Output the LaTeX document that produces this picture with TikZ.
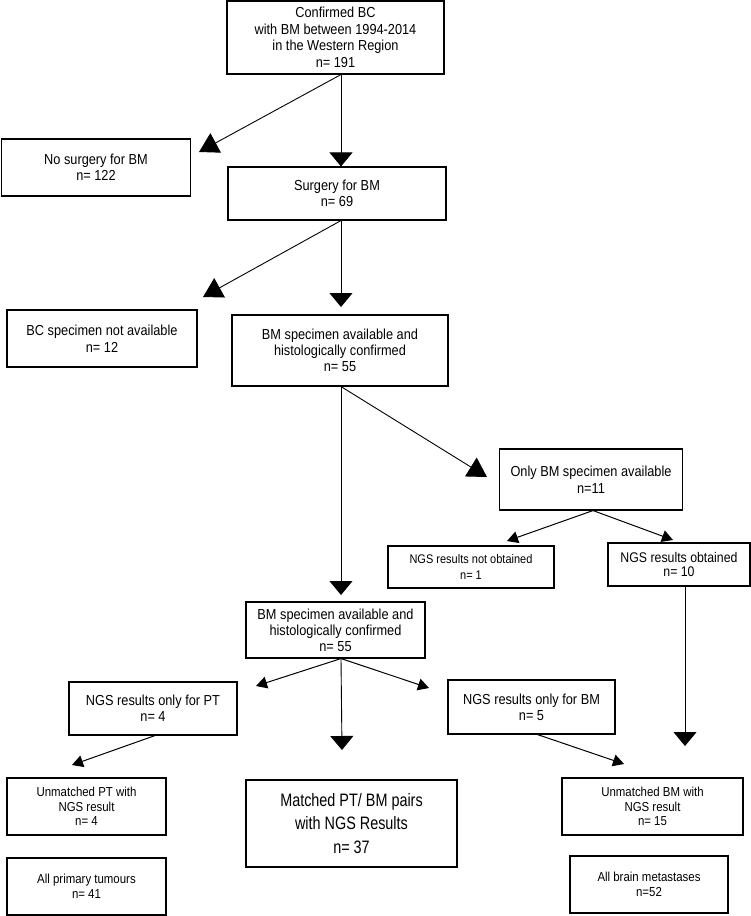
\documentclass[tikz,border=0pt]{standalone}
\usepackage{fontspec}
\setmainfont{Liberation Sans}[FakeStretch=0.88]
\newfontfamily\tallfont{Liberation Sans}[FakeStretch=0.8]
\usetikzlibrary{arrows.meta,calc}
\begin{document}
\begin{tikzpicture}[x=1pt,y=-1pt,
  box/.style={draw,line width=1.1pt,align=center,inner sep=0pt,
    font=\fontsize{14.5}{16.5}\selectfont},
  thickbox/.style={box,line width=2.2pt,font=\fontsize{13}{14.5}\selectfont},
  bigarrow/.style={line width=0.9pt,-{Triangle[length=14pt,width=23pt]}},
  diagarrow/.style={line width=0.9pt,-{Triangle[length=19pt,width=22pt]}},
  smallarrow/.style={line width=1pt,-{Triangle[length=11pt,width=12pt]}}
]
\useasboundingbox (0,0) rectangle (751,916);

% boxes
\node[box,minimum width=217pt,minimum height=73pt] (top) at (335.5,37.5)
  {Confirmed BC\\with BM between 1994-2014\\in the Western Region\\n= 191};
\node[box,minimum width=189pt,minimum height=57pt] (nosurg) at (96,167.5)
  {No surgery for BM\\n= 122};
\node[box,minimum width=218pt,minimum height=53pt] (surg) at (337,193.5)
  {Surgery for BM\\n= 69};
\node[box,minimum width=190pt,minimum height=57pt] (bcna) at (102,338.5)
  {BC specimen not available\\n= 12};
\node[box,minimum width=216pt,minimum height=71pt,font=\fontsize{14.5}{16}\selectfont] (bmone) at (340,350.5)
  {BM specimen available and\\histologically confirmed\\n= 55};
\node[box,minimum width=183pt,minimum height=61pt] (onlybm) at (591,479.5)
  {Only BM specimen available\\n=11};
\node[box,minimum width=166pt,minimum height=42pt,font=\fontsize{12.5}{16}\selectfont] (ngsnot) at (471,567)
  {NGS results not obtained\\n= 1};
\node[box,minimum width=142pt,minimum height=43pt,font=\fontsize{14}{14.5}\selectfont] (ngsobt) at (679,564.5)
  {NGS results obtained\\n= 10};
\node[box,minimum width=179pt,minimum height=56pt,font=\fontsize{14.5}{16}\selectfont] (bmtwo) at (335.5,630)
  {BM specimen available and\\histologically confirmed\\n= 55};
\node[box,minimum width=168pt,minimum height=53pt,font=\fontsize{14.5}{16}\selectfont] (onlypt) at (153,708.5)
  {NGS results only for PT\\n= 4};
\node[box,minimum width=167pt,minimum height=54pt,font=\fontsize{14.5}{16}\selectfont] (onlybmngs) at (531.5,707)
  {NGS results only for BM\\n= 5};
\node[thickbox,minimum width=159pt,minimum height=57pt] (unpt) at (86.5,806.5)
  {Unmatched PT with\\NGS result\\n= 4};
\node[thickbox,line width=2.8pt,minimum width=211pt,minimum height=87pt,
  font=\tallfont\fontsize{18}{23.5}\selectfont] (matched) at (351.5,823.5)
  {Matched PT/ BM pairs\\with NGS Results\\n= 37};
\node[thickbox,minimum width=181pt,minimum height=57pt] (unbm) at (652.5,806.5)
  {Unmatched BM with\\NGS result\\n= 15};
\node[thickbox,minimum width=159pt,minimum height=57pt,font=\fontsize{13}{15}\selectfont] (allpt) at (86.5,886.5)
  {All primary tumours\\n= 41};
\node[thickbox,minimum width=158pt,minimum height=57pt,font=\fontsize{13}{15}\selectfont] (allbm) at (649,884.5)
  {All brain metastases\\n=52};

% helper coordinates
\coordinate (cx) at (341,0);
\coordinate (tnosurg) at (199,152);
\coordinate (tbcna) at (203,297);
\coordinate (tbmone) at (341,307);
\coordinate (tonlybm) at (487,477);
\coordinate (tbmtwo) at (341,595);
\coordinate (tngsnot) at (507,541);
\coordinate (tngsobt) at (673,540);
\coordinate (tunbm) at (685,746);
\coordinate (tonlypt) at (256,686);
\coordinate (tonlybmngs) at (429,688);
\coordinate (tmatched) at (342,750);
\coordinate (tunpt) at (72,765);
\coordinate (tunbmtwo) at (624,764);

% connectors
\draw[bigarrow] (top.south -| cx) -- (surg.north -| cx);
\draw[diagarrow] (top.south -| cx) -- (tnosurg);
\draw[diagarrow] (surg.south -| cx) -- (tbcna);
\draw[bigarrow] (surg.south -| cx) -- (tbmone);
\draw[diagarrow] (bmone.south -| cx) -- (tonlybm);
\draw[bigarrow] (bmone.south -| cx) -- (tbmtwo);
\draw[smallarrow] ($(onlybm.south)+(2,0)$) -- (tngsnot);
\draw[smallarrow] ($(onlybm.south)+(2,0)$) -- (tngsobt);
\draw[bigarrow] ($(ngsobt.south)+(6,0)$) -- (tunbm);
\draw[smallarrow] (bmtwo.south -| cx) -- (tonlypt);
\draw[smallarrow] (bmtwo.south -| cx) -- (tonlybmngs);
\draw[bigarrow] (bmtwo.south -| cx) -- (tmatched);
\draw[smallarrow] ($(onlypt.south)+(2,0)$) -- (tunpt);
\draw[smallarrow] ($(onlybmngs.south)+(6,0)$) -- (tunbmtwo);
\end{tikzpicture}
\end{document}
